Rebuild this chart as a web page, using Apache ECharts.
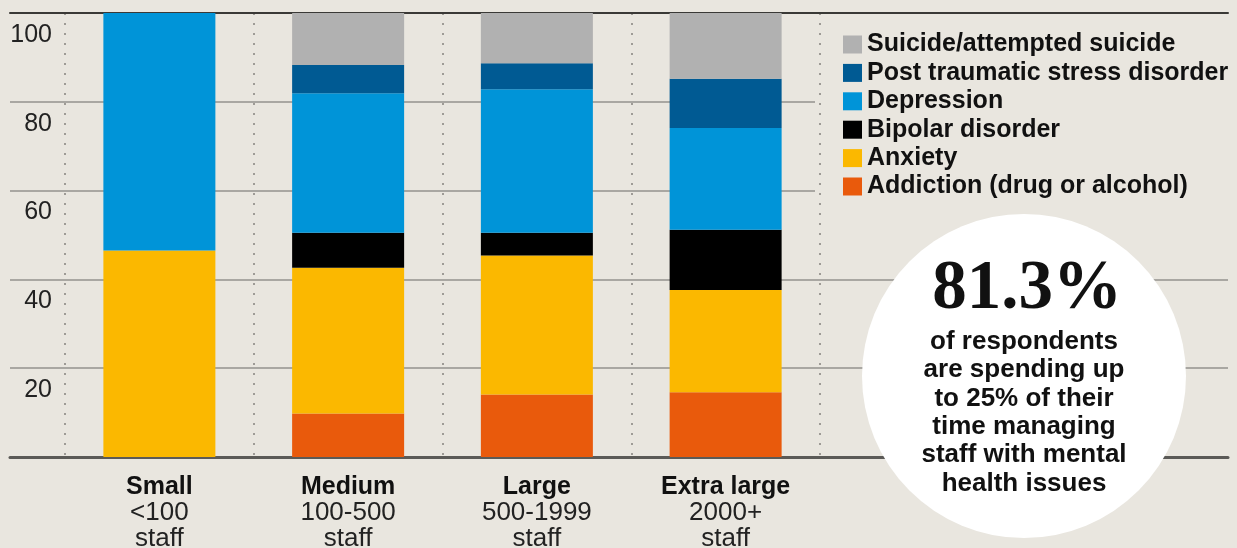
<!DOCTYPE html>
<html>
<head>
<meta charset="utf-8">
<script src="https://cdn.jsdelivr.net/npm/echarts@6/dist/echarts.min.js"></script>
<style>
  html, body { margin: 0; padding: 0; background: #e9e6df; }
  #chart { width: 1237px; height: 548px; }
</style>
</head>
<body>
<div id="chart"></div>
<script>
// ---- Data ----
const categories = ['Small', 'Medium', 'Large', 'Extra large'];
const categorySizes = ['<100', '100-500', '500-1999', '2000+'];
const categoryUnit = 'staff';

const addiction  = [0,    9.8, 14.1, 14.6];
const anxiety    = [46.5, 32.8, 31.3, 23.0];
const bipolar    = [0,    7.9,  5.1, 13.6];
const depression = [53.5, 31.4, 32.3, 22.9];
const ptsd       = [0,    6.4,  5.9, 11.1];
const suicide    = [0,   11.7, 11.3, 14.8];

const yTicks = [0, 20, 40, 60, 80, 100];

const seriesNames = [
  'Addiction (drug or alcohol)', 'Anxiety', 'Bipolar disorder',
  'Depression', 'Post traumatic stress disorder', 'Suicide/attempted suicide'
];
const seriesValues = [addiction, anxiety, bipolar, depression, ptsd, suicide];
const seriesColors = ['#e95a0c', '#fbb800', '#000000', '#0094d8', '#005a93', '#b1b1b1'];

const calloutValue = '81.3%';
const calloutLines = ['of respondents', 'are spending up', 'to 25% of their',
  'time managing', 'staff with mental', 'health issues'];

// ---- Chart ----
const chart = echarts.init(document.getElementById('chart'));
const GRID = '#a9a7a2';
const T = 'rgba(0,0,0,0)';
const CX = 1024, CY = 376, R = 162;

const graphics = [
  { type: 'circle', z: 100, shape: { cx: CX, cy: CY, r: R }, style: { fill: '#ffffff' } },
  { type: 'text', z: 101, x: CX + 3, y: 290,
    style: { text: calloutValue, font: 'bold 69px "Liberation Serif", serif', fill: '#111',
             textAlign: 'center', textVerticalAlign: 'middle' } }
];
calloutLines.forEach((t, i) => {
  graphics.push({ type: 'text', z: 101, x: CX, y: 342 + i * 28.3,
    style: { text: t, font: 'bold 26px "Liberation Sans", Arial, sans-serif', fill: '#111',
             textAlign: 'center', textVerticalAlign: 'middle' } });
});

const gridBase = { top: 13, bottom: 91, outerBoundsMode: 'none', containLabel: false };

chart.setOption({
  backgroundColor: '#e9e6df',
  animation: false,
  grid: [
    Object.assign({ left: 65, right: 417 }, gridBase),
    Object.assign({ left: 10, right: 9 }, gridBase),
    Object.assign({ left: 10, right: 422 }, gridBase)
  ],
  xAxis: [
    {
      type: 'category', gridIndex: 0, data: categories,
      axisLine: { show: false }, axisTick: { show: false },
      splitLine: { show: true, lineStyle: { color: '#85837f', type: [2, 8], width: 1.5 } },
      axisLabel: {
        margin: 17, interval: 0,
        formatter: (v, i) => '{b|' + v + '}\n{r|' + categorySizes[i] + '}\n{r|' + categoryUnit + '}',
        rich: {
          b: { fontFamily: '"Liberation Sans", Arial', fontWeight: 'bold', fontSize: 25, color: '#111', lineHeight: 26 },
          r: { fontFamily: '"Liberation Sans", Arial', fontSize: 26, color: '#222', lineHeight: 26 }
        }
      }
    },
    {
      type: 'value', gridIndex: 1, min: 0, max: 1, position: 'bottom',
      axisLine: { show: true, lineStyle: { color: '#5b5a57', width: 3 } },
      axisTick: { show: false }, axisLabel: { show: false }, splitLine: { show: false }
    },
    {
      type: 'value', gridIndex: 1, min: 0, max: 1, position: 'top',
      axisLine: { show: true, lineStyle: { color: '#3a3936', width: 2 } },
      axisTick: { show: false }, axisLabel: { show: false }, splitLine: { show: false }
    },
    {
      type: 'value', gridIndex: 2, min: 0, max: 1, show: false
    }
  ],
  yAxis: [
    {
      type: 'value', gridIndex: 0, min: 0, max: 100, interval: 20,
      axisLine: { show: false }, axisTick: { show: false }, splitLine: { show: false },
      axisLabel: {
        margin: 13, verticalAlign: 'top', padding: [10, 0, 0, 0], lineHeight: 24,
        fontFamily: '"Liberation Sans", Arial', fontSize: 25, color: '#222',
        formatter: v => (v === 0 ? '' : String(v))
      }
    },
    {
      type: 'value', gridIndex: 1, min: 0, max: 100, interval: 20,
      axisLine: { show: false }, axisTick: { show: false }, axisLabel: { show: false },
      splitLine: { show: true, lineStyle: { color: [T, GRID, GRID, T, T, T], width: 2 } }
    },
    {
      type: 'value', gridIndex: 2, min: 0, max: 100, interval: 20,
      axisLine: { show: false }, axisTick: { show: false }, axisLabel: { show: false },
      splitLine: { show: true, lineStyle: { color: [T, T, T, GRID, GRID, T], width: 2 } }
    }
  ],
  legend: {
    orient: 'vertical', left: 843, top: 32, padding: 0,
    itemWidth: 19, itemHeight: 18, itemGap: 3.4, icon: 'rect',
    selectedMode: false,
    data: seriesNames.slice().reverse(),
    textStyle: { fontFamily: '"Liberation Sans", Arial', fontWeight: 'bold', fontSize: 25, color: '#111' }
  },
  series: seriesNames.map((name, i) => ({
    name, type: 'bar', stack: 'total', xAxisIndex: 0, yAxisIndex: 0,
    barWidth: 112, data: seriesValues[i],
    itemStyle: { color: seriesColors[i] },
    emphasis: { disabled: true }
  })),
  graphic: graphics
});
</script>
</body>
</html>
